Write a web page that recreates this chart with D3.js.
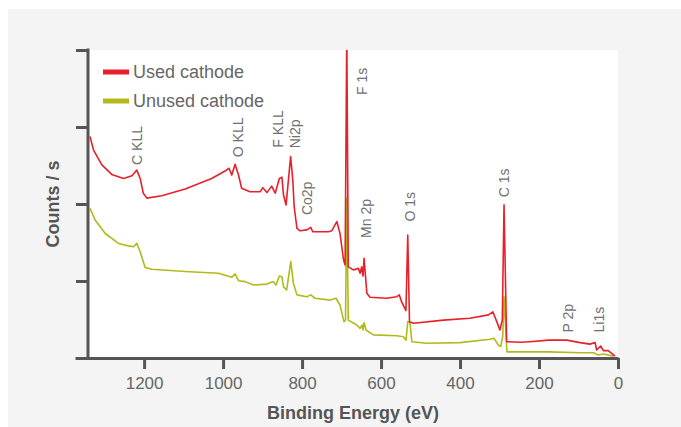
<!DOCTYPE html>
<html>
<head>
<meta charset="utf-8">
<script src="https://cdn.jsdelivr.net/npm/d3@7"></script>
<style>
  body { margin: 0; background: #ffffff; }
  text { font-family: "Liberation Sans", Arial, sans-serif; }
</style>
</head>
<body>
<svg id="chart" width="681" height="427"></svg>
<script>
"use strict";

// used cathode spectrum (binding energy in eV, counts in arbitrary units)
var usedEnergy = [1337, 1328, 1307, 1282, 1252, 1231, 1218.5, 1210, 1202, 1193, 1155, 1096, 1029, 995, 985, 978,
  969.6, 961, 953, 932, 906, 899.5, 889, 877, 868, 857.5, 851, 847, 840.5, 829, 823.5, 820, 813, 805, 788, 778,
  773, 759, 733, 725, 712, 704, 695, 691, 686.8, 683, 670, 657.5, 653, 649, 645.6, 643, 636, 628, 586, 560, 554,
  548, 537, 532.4, 528, 518, 442, 375, 328, 317, 307, 299, 293, 288.6, 282, 248, 223, 176.5, 130, 96, 71, 58,
  54, 44, 37, 25, 16, 7.6];
var usedCounts = [71.9, 67.5, 62.7, 59.6, 58.3, 59.2, 61.0, 58.3, 53.5, 51.9, 52.7, 54.9, 58.3, 60.7, 61.6, 59.4,
  62.9, 59.4, 55.1, 54.0, 54.0, 55.3, 53.7, 55.8, 53.5, 58.3, 58.7, 52.9, 49.7, 65.4, 57.8, 49.1, 42.1, 41.3, 41.6, 42.4,
  41.0, 41.0, 41.0, 41.3, 44.3, 40.5, 31.8, 30.2, 106, 29.6, 28.6, 29.1, 27.5, 29.6, 26.6, 32.4, 21.0, 19.7, 19.4, 19.9, 20.5,
  18.3, 15.4, 39.9, 11.8, 11.3, 12.3, 12.9, 14.0, 15.0, 11.8, 9.1, 12.3, 49.7, 5.3, 5.1, 5.3, 5.8, 5.8, 5.0, 4.5, 5.0,
  2.6, 3.9, 2.4, 2.4, 1.5, 0.6];

// unused cathode spectrum
var unusedEnergy = [1337, 1324, 1299, 1265, 1240, 1227, 1218.5, 1210, 1197.5, 1180.5, 1096, 1012, 978, 969.6, 961,
  944, 923, 889, 873, 866, 857.5, 851, 847, 839, 828.6, 822, 813, 788, 778, 767, 729, 714, 704, 694, 690, 686.8,
  683, 661.5, 653, 648, 645.6, 643, 638, 619.5, 560, 543.5, 536.7, 532.4, 526.6, 522, 484, 400, 324, 314, 303,
  297, 292, 288.6, 282, 281, 175, 96, 62.5, 50, 37, 12];
var unusedCounts = [48.6, 44.8, 40.5, 37.2, 36.4, 36.1, 37.2, 34.5, 29.4, 28.8, 28.1, 27.5, 26.2, 27.3, 25.1,
  24.8, 23.7, 24.0, 24.8, 23.7, 26.6, 26.4, 23.1, 22.1, 31.3, 24.3, 20.5, 19.9, 20.5, 19.4, 18.8, 19.4, 17.2, 11.8, 12.3, 51.9,
  12.3, 10.7, 9.6, 10.7, 9.1, 11.5, 9.1, 7.5, 7.2, 6.9, 5.8, 11.8, 11.3, 5.3, 4.8, 5.0, 6.1, 6.4, 4.2,
  3.7, 6.9, 19.9, 3.7, 2.0, 2.0, 1.7, 1.7, 1.0, 1.3, 0.6];

// peak annotations: name, energy and the height where the label starts
var peakNames = ["C KLL", "O KLL", "F KLL", "Ni2p", "Co2p", "F 1s", "Mn 2p", "O 1s", "C 1s", "P 2p", "Li1s"];
var peakEnergy = [1217, 961.5, 860, 818, 788, 649, 638, 528, 289, 127, 47];
var peakHeight = [62.7, 65.2, 68.3, 68.1, 46.4, 85.4, 39.0, 44.3, 52.2, 8.3, 8.3];

var xTicks = [1200, 1000, 800, 600, 400, 200, 0];
var yTicks = [0, 25, 50, 75, 100];
var seriesNames = ["Used cathode", "Unused cathode"];
var seriesColors = ["#e8202a", "#b2ba1b"];

var Draw = (function() {
  var svg = d3.select("#chart");
  var left = 88, right = 618, top = 50, bottom = 358;

  var x = d3.scaleLinear().domain([1375, 0]).range([75, 618]);
  var y = d3.scaleLinear().domain([0, 100]).range([bottom, top]);

  // grey panel and white plot area
  svg.append("rect").attr("x", 8).attr("y", 9).attr("width", 673).attr("height", 418).attr("fill", "#f4f4f4");
  svg.append("rect").attr("x", left).attr("y", top).attr("width", right - left).attr("height", bottom - top)
    .attr("fill", "#ffffff");

  svg.append("clipPath").attr("id", "plotclip")
    .append("rect").attr("x", left).attr("y", top).attr("width", right - left + 2).attr("height", bottom - top);

  var line = d3.line().x(d => x(d[0])).y(d => y(d[1]));
  var series = [
    d3.zip(unusedEnergy, unusedCounts),
    d3.zip(usedEnergy, usedCounts)
  ];
  var cols = [seriesColors[1], seriesColors[0]];

  svg.append("g").attr("clip-path", "url(#plotclip)")
    .selectAll("path").data(series)
    .enter().append("path")
    .attr("d", line)
    .attr("fill", "none")
    .attr("stroke", (d, i) => cols[i])
    .attr("stroke-width", 1.6)
    .attr("stroke-linejoin", "round");

  // peak labels
  svg.append("g").selectAll("text").data(peakNames)
    .enter().append("text")
    .attr("transform", (d, i) => "translate(" + x(peakEnergy[i]) + "," + y(peakHeight[i]) + ") rotate(-90)")
    .attr("dy", "0.36em")
    .attr("fill", "#707070")
    .style("font-size", "14px")
    .text(d => d);

  // axes
  var xAxis = svg.append("g")
    .attr("transform", "translate(0," + bottom + ")")
    .call(d3.axisBottom(x).tickValues(xTicks).tickFormat(d3.format("d"))
      .tickSize(11).tickSizeOuter(0).tickPadding(8));
  var yAxis = svg.append("g")
    .attr("transform", "translate(" + left + ",0)")
    .call(d3.axisLeft(y).tickValues(yTicks).tickSize(12).tickSizeOuter(0).tickFormat(""));

  [xAxis, yAxis].forEach(a => {
    a.select(".domain").attr("stroke", "#555").attr("stroke-width", 3);
    a.selectAll(".tick line").attr("stroke", "#555").attr("stroke-width", 3);
  });
  yAxis.select(".domain").attr("d", "M0," + (bottom + 1.5) + "V" + (top - 1.5));
  xAxis.selectAll(".tick text")
    .attr("fill", "#666")
    .style("font-size", "17px");

  svg.append("text")
    .attr("x", (left + right) / 2).attr("y", 419)
    .attr("text-anchor", "middle")
    .attr("fill", "#555")
    .style("font-size", "18px").style("font-weight", "bold")
    .text("Binding Energy (eV)");

  svg.append("text")
    .attr("transform", "translate(59," + (top + bottom) / 2 + ") rotate(-90)")
    .attr("text-anchor", "middle")
    .attr("fill", "#555")
    .style("font-size", "18px").style("font-weight", "bold")
    .text("Counts / s");

  // legend
  var legend = svg.append("g").selectAll("g").data(seriesNames)
    .enter().append("g")
    .attr("transform", (d, i) => "translate(103," + (72 + i * 29) + ")");
  legend.append("line")
    .attr("x1", 0).attr("x2", 26)
    .attr("stroke", (d, i) => seriesColors[i])
    .attr("stroke-width", 5);
  legend.append("text")
    .attr("x", 30).attr("dy", "0.35em")
    .attr("fill", "#666")
    .style("font-size", "18px")
    .text(d => d);
});

Draw();
</script>
</body>
</html>
